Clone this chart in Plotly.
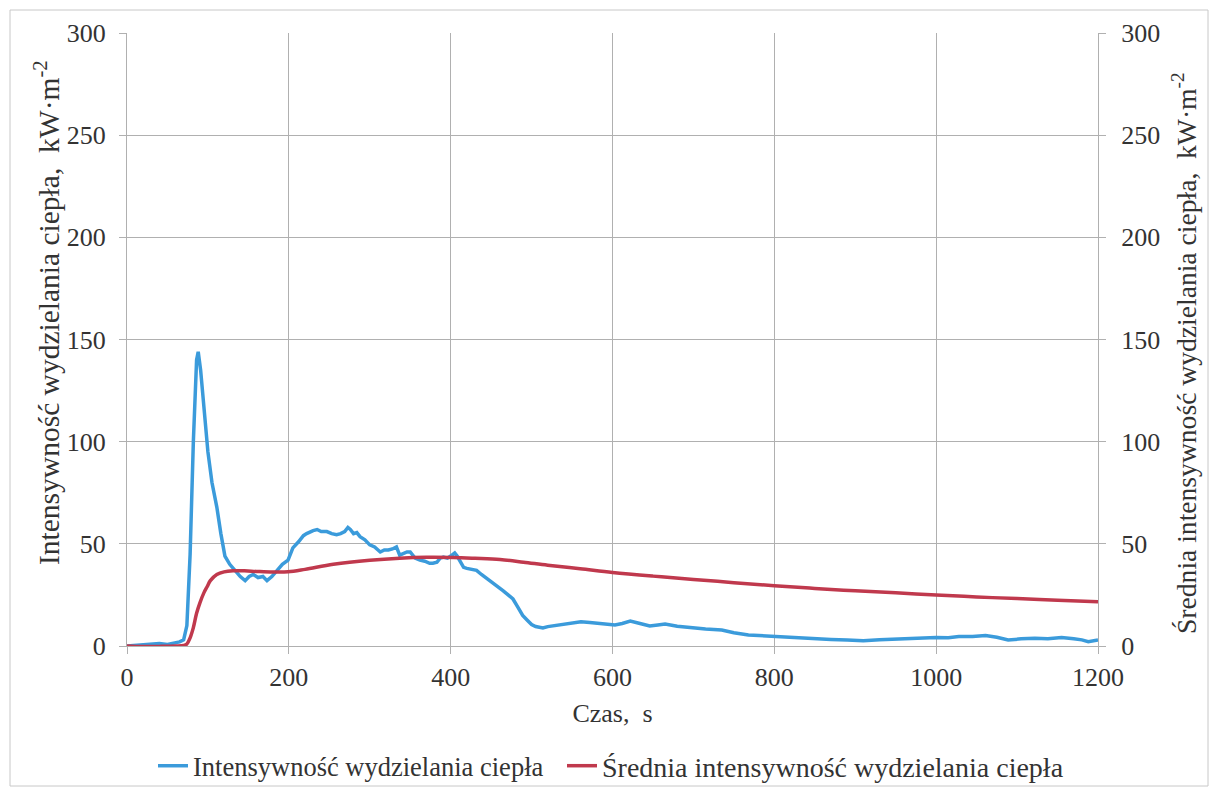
import plotly.graph_objects as go

# ---- data ----
t_hrr = [0, 10, 20, 30, 40, 50, 60, 65, 70, 74, 78, 82, 86, 88, 91, 95, 100, 105, 111, 116,
         121, 127, 133, 140, 146, 151, 156, 162, 168, 173, 179, 185, 192, 199, 205, 212, 218,
         222, 226, 230, 235, 240, 247, 253, 259, 264, 269, 273, 276, 280, 284, 288, 294, 300,
         306, 313, 318, 323, 328, 333, 337, 342, 346, 350, 356, 362, 368, 374, 378, 383, 387,
         391, 396, 400, 405, 408, 412, 416, 420, 426, 432, 438, 445, 452, 458, 465, 471, 477,
         483, 489, 495, 500, 505, 510, 514, 520, 530, 540, 550, 561, 572, 583, 592, 603, 612,
         622, 634, 646, 656, 665, 680, 698, 715, 735, 750, 768, 785, 801, 820, 835, 853, 870,
         890, 910, 930, 948, 965, 983, 1000, 1015, 1028, 1045, 1061, 1075, 1089, 1105, 1122,
         1138, 1155, 1170, 1180, 1188, 1195, 1200]
hrr = [0, 0.2, 0.5, 1.0, 1.2, 0.8, 1.5, 2.0, 3, 10, 45, 100, 140, 144, 135, 118, 95, 80, 68, 55,
       44, 40, 37, 34, 32, 34, 35, 33.5, 34, 32, 34, 37, 40, 42, 48, 51, 54,
       55, 56, 56.5, 57, 56, 56, 55, 54.5, 55, 56, 58, 57, 55, 55.5, 53.5, 52, 49.5,
       48.5, 46, 47, 47, 47.5, 48.5, 44.5, 45.5, 46, 46, 43, 42, 41.5, 40.5, 40.5, 41, 43,
       43.5, 43, 44, 45.5, 44, 41, 38.5, 38, 37.5, 37, 35, 33, 31, 29.5, 27, 25, 23,
       19, 15, 12.5, 10.5, 9.5, 9, 8.8, 9.5, 10, 10.8, 11.3, 11.9, 11.5, 11.2, 11, 10.3, 11,
       12.2, 11, 9.8, 10.3, 10.8, 9.7, 8.8, 8.3, 7.8, 6.5, 5.4, 5, 4.6, 4.2, 3.6, 3.3, 3.2,
       2.9, 2.6, 3.0, 3.4, 3.6, 3.9, 4.2, 4.0, 4.6, 4.7, 5.1, 4.3, 2.9, 3.5, 3.8,
       3.6, 4.1, 3.5, 3.0, 2.1, 2.8, 2.9]

t_avg = [0, 20, 40, 60, 70, 74, 78, 82, 86, 90, 95, 99, 103, 111, 120, 131, 145, 160, 180, 199,
         220, 255, 300, 337, 370, 403, 430, 461, 490, 520, 560, 600, 650, 700, 750, 800, 850,
         900, 950, 1000, 1050, 1100, 1150, 1200]
avg = [0, -0.3, -0.2, 0, 0.3, 1, 4, 9, 16, 21, 26, 29, 32, 35, 36.3, 36.8, 36.8, 36.5, 36.2, 36.3,
       37.5, 40, 42, 43, 43.4, 43.3, 42.9, 42.3, 41, 39.5, 37.8, 36, 34.2, 32.6, 31, 29.5, 28.2,
       27, 26, 25, 24, 23.2, 22.4, 21.7]

x_ticks = [0, 200, 400, 600, 800, 1000, 1200]
y_ticks = [0, 50, 100, 150, 200, 250, 300]

name_hrr = "Intensywność wydzielania ciepła"
name_avg = "Średnia intensywność wydzielania ciepła"
ytitle_left = "Intensywność wydzielania ciepła,  kW·m<sup>-2</sup>"
ytitle_right = "Średnia intensywność wydzielania ciepła,  kW·m<sup>-2</sup>"
xtitle = "Czas,  s"

BLUE = "#3b9bdb"
RED = "#c0394d"
GRID = "#b0b0b0"
FONT = "'Liberation Serif', 'Times New Roman', Times, 'DejaVu Serif', serif"
TXT = "#333333"

W, H = 1211, 790
L, R, T, B = 127, 1098, 33, 646  # plot area in px

def px_x(p):
    return (p - L) / (R - L)

def px_y(p):
    return (B - p) / (B - T)

fig = go.Figure()
fig.add_trace(go.Scatter(x=t_hrr, y=hrr, mode="lines", name=name_hrr, legend="legend",
                         line=dict(color=BLUE, width=3.5)))
fig.add_trace(go.Scatter(x=t_avg, y=avg, mode="lines", name=name_avg, yaxis="y2",
                         legend="legend2",
                         line=dict(color=RED, width=3.5, shape="spline")))

axis_common = dict(showgrid=True, gridcolor=GRID, gridwidth=1, showline=True, linecolor=GRID,
                   linewidth=1, ticks="outside", tickcolor=GRID, ticklen=7,
                   tickfont=dict(family=FONT, size=26, color=TXT), zeroline=False)

legend_common = dict(orientation="h", xanchor="left", yanchor="middle",
                     bgcolor="rgba(0,0,0,0)", itemwidth=30)

fig.update_layout(
    width=W, height=H,
    margin=dict(l=L, r=W - R, t=T, b=H - B, autoexpand=False),
    paper_bgcolor="white", plot_bgcolor="white",
    font=dict(family=FONT, color=TXT),
    xaxis=dict(range=[0, 1200], tickvals=x_ticks, ticktext=[str(v) for v in x_ticks],
               title=dict(text=xtitle, font=dict(family=FONT, size=26, color=TXT), standoff=12),
               ticklabelstandoff=1, mirror=False, **axis_common),
    yaxis=dict(range=[0, 300], tickvals=y_ticks, ticktext=[str(v) for v in y_ticks],
               ticklabelstandoff=8, **axis_common),
    yaxis2=dict(range=[0, 300], tickvals=y_ticks, ticktext=[str(v) for v in y_ticks],
                overlaying="y", side="right", ticklabelstandoff=10,
                **{**axis_common, "showgrid": False}),
    showlegend=True,
    legend=dict(x=px_x(153), y=px_y(766), font=dict(family=FONT, size=26.5, color=TXT),
                **legend_common),
    legend2=dict(x=px_x(562), y=px_y(766), font=dict(family=FONT, size=28, color=TXT),
                 **legend_common),
    annotations=[
        dict(text=ytitle_left, textangle=-90, xref="paper", yref="paper",
             x=px_x(47), y=px_y(313), xanchor="center", yanchor="middle", showarrow=False,
             font=dict(family=FONT, size=29.5, color=TXT)),
        dict(text=ytitle_right, textangle=-90, xref="paper", yref="paper",
             x=px_x(1184), y=px_y(353), xanchor="center", yanchor="middle", showarrow=False,
             font=dict(family=FONT, size=27.6, color=TXT)),
    ],
    shapes=[dict(type="rect", xref="paper", yref="paper",
                 x0=px_x(10), x1=px_x(1208), y0=px_y(786), y1=px_y(10),
                 line=dict(color="#c8c8c8", width=1), fillcolor="rgba(0,0,0,0)", layer="below")],
)

fig.write_html("out.html")
